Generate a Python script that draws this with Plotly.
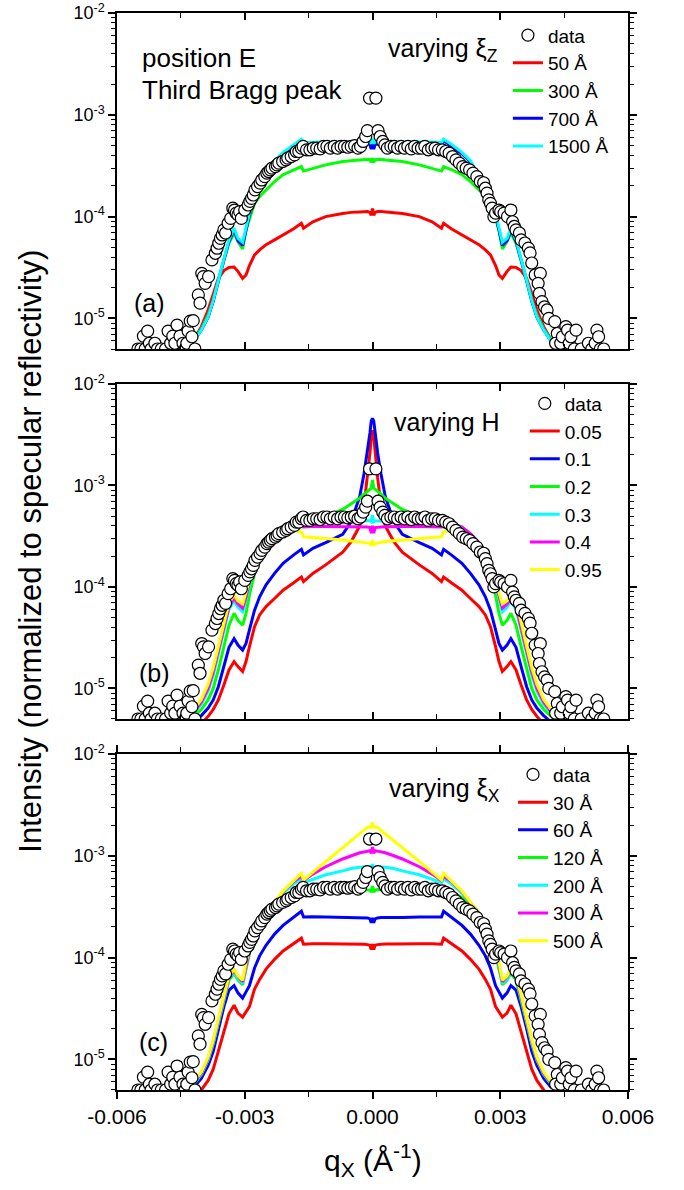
import numpy as np
import plotly.graph_objects as go

# ---------------- model grid (q_x, 1/Angstrom) ----------------
q_model = [-0.0047, -0.00442, -0.00418, -0.00402, -0.00386, -0.00374, -0.00362, -0.00349, -0.00337, -0.00325,
           -0.00316, -0.00305, -0.00297, -0.00289, -0.00277, -0.00265, -0.0025, -0.0023, -0.0021, -0.00185,
           -0.00167, -0.00162, -0.0014, -0.0011, -0.0007, -0.0005, -0.0003, -0.0002, -0.00012, -0.00006,
           -0.00003, 0.0, 0.00003, 0.00006, 0.00012, 0.0002, 0.0003, 0.0005, 0.0007, 0.0011,
           0.0014, 0.00162, 0.00167, 0.00185, 0.0021, 0.0023, 0.0025, 0.00265, 0.00277, 0.00289,
           0.00297, 0.00305, 0.00316, 0.00325, 0.00337, 0.00349, 0.00362, 0.00374, 0.00386, 0.00402,
           0.00418, 0.00442, 0.0047]

# ---------------- panel (a): varying xi_z ----------------
a_labels = ["50 Å", "300 Å", "700 Å", "1500 Å"]
a_red = [4.9e-6, 5.2e-6, 6.3e-6, 8.3e-6, 1.21e-5, 1.76e-5, 2.47e-5, 2.95e-5, 3.17e-5, 3.2e-5, 2.9e-5, 2.47e-5, 2.67e-5, 3.3e-5, 4.2e-5, 4.7e-5, 5.3e-5, 5.9e-5, 6.6e-5, 7.6e-5, 8.6e-5, 7.7e-5, 8.9e-5, 1.0e-4, 1.07e-4, 1.1e-4, 1.11e-4, 1.12e-4, 1.12e-4, 1.1e-4, 1.03e-4,
         1.2e-4,
         1.03e-4, 1.1e-4, 1.12e-4, 1.12e-4, 1.11e-4, 1.1e-4, 1.07e-4, 1.0e-4, 8.9e-5, 7.7e-5, 8.6e-5, 7.6e-5, 6.6e-5, 5.9e-5, 5.3e-5, 4.7e-5, 4.2e-5, 3.3e-5, 2.67e-5, 2.47e-5, 2.9e-5, 3.2e-5, 3.17e-5, 2.95e-5, 2.47e-5, 1.76e-5, 1.21e-5, 8.3e-6, 6.3e-6, 5.2e-6, 4.9e-6]
a_green = [4.9e-6, 5.1e-6, 6.3e-6, 7.9e-6, 1.08e-5, 1.5e-5, 2.3e-5, 3.75e-5, 5.5e-5, 6.9e-5, 5.7e-5, 4.8e-5, 7.4e-5, 9.6e-5, 1.35e-4, 1.58e-4, 1.83e-4, 2.21e-4, 2.58e-4, 2.9e-4, 3.1e-4, 2.8e-4, 2.99e-4, 3.22e-4, 3.48e-4, 3.55e-4, 3.6e-4, 3.65e-4, 3.65e-4, 3.62e-4, 3.4e-4,
           3.75e-4,
           3.4e-4, 3.62e-4, 3.65e-4, 3.65e-4, 3.6e-4, 3.55e-4, 3.48e-4, 3.22e-4, 2.99e-4, 2.8e-4, 3.1e-4, 2.9e-4, 2.58e-4, 2.21e-4, 1.83e-4, 1.58e-4, 1.35e-4, 9.6e-5, 7.4e-5, 4.8e-5, 5.7e-5, 6.9e-5, 5.5e-5, 3.75e-5, 2.3e-5, 1.5e-5, 1.08e-5, 7.9e-6, 6.3e-6, 5.1e-6, 4.9e-6]
a_blue = [4.9e-6, 5.05e-6, 6.1e-6, 7.7e-6, 1.03e-5, 1.48e-5, 2.35e-5, 3.8e-5, 5.7e-5, 7.4e-5, 5.8e-5, 5.2e-5, 7.4e-5, 1.04e-4, 1.5e-4, 1.88e-4, 2.45e-4, 3.45e-4, 4.15e-4, 4.95e-4, 5.6e-4, 5.1e-4, 5.15e-4, 5.2e-4, 5.25e-4, 5.25e-4, 5.25e-4, 5.25e-4, 5.2e-4, 5.1e-4, 4.6e-4,
          5.6e-4,
          4.6e-4, 5.1e-4, 5.2e-4, 5.25e-4, 5.25e-4, 5.25e-4, 5.25e-4, 5.2e-4, 5.15e-4, 5.1e-4, 5.6e-4, 4.95e-4, 4.15e-4, 3.45e-4, 2.45e-4, 1.88e-4, 1.5e-4, 1.04e-4, 7.4e-5, 5.2e-5, 5.8e-5, 7.4e-5, 5.7e-5, 3.8e-5, 2.35e-5, 1.48e-5, 1.03e-5, 7.7e-6, 6.1e-6, 5.05e-6, 4.9e-6]
a_cyan = [4.9e-6, 5.07e-6, 6.1e-6, 7.7e-6, 1.04e-5, 1.5e-5, 2.38e-5, 3.9e-5, 5.9e-5, 7.7e-5, 6.1e-5, 5.6e-5, 7.7e-5, 1.08e-4, 1.56e-4, 1.94e-4, 2.5e-4, 3.55e-4, 4.27e-4, 5.15e-4, 5.77e-4, 5.3e-4, 5.4e-4, 5.45e-4, 5.45e-4, 5.45e-4, 5.45e-4, 5.45e-4, 5.45e-4, 5.4e-4, 5.2e-4,
          5.9e-4,
          5.2e-4, 5.4e-4, 5.45e-4, 5.45e-4, 5.45e-4, 5.45e-4, 5.45e-4, 5.45e-4, 5.4e-4, 5.3e-4, 5.77e-4, 5.15e-4, 4.27e-4, 3.55e-4, 2.5e-4, 1.94e-4, 1.56e-4, 1.08e-4, 7.7e-5, 5.6e-5, 6.1e-5, 7.7e-5, 5.9e-5, 3.9e-5, 2.38e-5, 1.5e-5, 1.04e-5, 7.7e-6, 6.1e-6, 5.07e-6, 4.9e-6]

# ---------------- panel (b): varying H ----------------
b_labels = ["0.05", "0.1", "0.2", "0.3", "0.4", "0.95"]
b_red = [3.0e-6, 3.5e-6, 4.0e-6, 4.5e-6, 5.3e-6, 6.2e-6, 7.7e-6, 1.08e-5, 1.52e-5, 1.84e-5, 1.64e-5, 1.47e-5, 1.84e-5, 2.58e-5, 4.06e-5, 5.3e-5, 6.4e-5, 7.7e-5, 9.3e-5, 1.1e-4, 1.25e-4, 1.13e-4, 1.36e-4, 1.65e-4, 2.2e-4, 2.8e-4, 4.0e-4, 6.3e-4, 1.2e-3, 2.1e-3, 3.0e-3,
         3.5e-3,
         3.0e-3, 2.1e-3, 1.2e-3, 6.3e-4, 4.0e-4, 2.8e-4, 2.2e-4, 1.65e-4, 1.36e-4, 1.13e-4, 1.25e-4, 1.1e-4, 9.3e-5, 7.7e-5, 6.4e-5, 5.3e-5, 4.06e-5, 2.58e-5, 1.84e-5, 1.47e-5, 1.64e-5, 1.84e-5, 1.52e-5, 1.08e-5, 7.7e-6, 6.2e-6, 5.3e-6, 4.5e-6, 4.0e-6, 3.5e-6, 3.0e-6]
b_blue = [3.5e-6, 4.0e-6, 4.7e-6, 5.4e-6, 6.4e-6, 7.7e-6, 1.04e-5, 1.64e-5, 2.54e-5, 3.1e-5, 2.68e-5, 2.39e-5, 2.78e-5, 3.77e-5, 5.9e-5, 8.0e-5, 1.05e-4, 1.36e-4, 1.71e-4, 2.07e-4, 2.35e-4, 2.07e-4, 2.4e-4, 2.73e-4, 3.3e-4, 4.4e-4, 7.8e-4, 1.3e-3, 2.1e-3, 3.3e-3, 4.3e-3,
          4.6e-3,
          4.3e-3, 3.3e-3, 2.1e-3, 1.3e-3, 7.8e-4, 4.4e-4, 3.3e-4, 2.73e-4, 2.4e-4, 2.07e-4, 2.35e-4, 2.07e-4, 1.71e-4, 1.36e-4, 1.05e-4, 8.0e-5, 5.9e-5, 3.77e-5, 2.78e-5, 2.39e-5, 2.68e-5, 3.1e-5, 2.54e-5, 1.64e-5, 1.04e-5, 7.7e-6, 6.4e-6, 5.4e-6, 4.7e-6, 4.0e-6, 3.5e-6]
b_green = [3.8e-6, 4.5e-6, 5.4e-6, 6.2e-6, 7.7e-6, 1.0e-5, 1.52e-5, 2.58e-5, 4.2e-5, 5.5e-5, 4.7e-5, 4.2e-5, 5.5e-5, 8.3e-5, 1.36e-4, 1.85e-4, 2.4e-4, 3.0e-4, 3.5e-4, 3.99e-4, 4.36e-4, 4.14e-4, 4.57e-4, 5.0e-4, 5.8e-4, 6.6e-4, 7.5e-4, 8.2e-4, 8.8e-4, 9.2e-4, 9.4e-4,
           1.13e-3,
           9.4e-4, 9.2e-4, 8.8e-4, 8.2e-4, 7.5e-4, 6.6e-4, 5.8e-4, 5.0e-4, 4.57e-4, 4.14e-4, 4.36e-4, 3.99e-4, 3.5e-4, 3.0e-4, 2.4e-4, 1.85e-4, 1.36e-4, 8.3e-5, 5.5e-5, 4.2e-5, 4.7e-5, 5.5e-5, 4.2e-5, 2.58e-5, 1.52e-5, 1.0e-5, 7.7e-6, 6.2e-6, 5.4e-6, 4.5e-6, 3.8e-6]
b_cyan = [4.0e-6, 4.8e-6, 5.8e-6, 7.0e-6, 9.5e-6, 1.35e-5, 2.2e-5, 3.8e-5, 6.0e-5, 7.3e-5, 6.3e-5, 5.7e-5, 7.5e-5, 1.05e-4, 1.6e-4, 2.1e-4, 2.65e-4, 3.3e-4, 3.9e-4, 4.3e-4, 4.55e-4, 4.3e-4, 4.4e-4, 4.45e-4, 4.5e-4, 4.5e-4, 4.5e-4, 4.5e-4, 4.5e-4, 4.5e-4, 4.4e-4,
          5.1e-4,
          4.4e-4, 4.5e-4, 4.5e-4, 4.5e-4, 4.5e-4, 4.5e-4, 4.5e-4, 4.45e-4, 4.4e-4, 4.3e-4, 4.55e-4, 4.3e-4, 3.9e-4, 3.3e-4, 2.65e-4, 2.1e-4, 1.6e-4, 1.05e-4, 7.5e-5, 5.7e-5, 6.3e-5, 7.3e-5, 6.0e-5, 3.8e-5, 2.2e-5, 1.35e-5, 9.5e-6, 7.0e-6, 5.8e-6, 4.8e-6, 4.0e-6]
b_magenta = [4.1e-6, 5.0e-6, 6.0e-6, 7.3e-6, 1.0e-5, 1.45e-5, 2.35e-5, 4.0e-5, 6.4e-5, 7.8e-5, 6.8e-5, 6.2e-5, 8.0e-5, 1.12e-4, 1.7e-4, 2.2e-4, 2.75e-4, 3.35e-4, 3.9e-4, 4.2e-4, 4.3e-4, 3.9e-4, 3.95e-4, 3.95e-4, 3.95e-4, 3.95e-4, 3.92e-4, 3.9e-4, 3.9e-4, 3.85e-4, 3.4e-4,
             4.0e-4,
             3.4e-4, 3.85e-4, 3.9e-4, 3.9e-4, 3.92e-4, 3.95e-4, 3.95e-4, 3.95e-4, 3.95e-4, 3.9e-4, 4.3e-4, 4.2e-4, 3.9e-4, 3.35e-4, 2.75e-4, 2.2e-4, 1.7e-4, 1.12e-4, 8.0e-5, 6.2e-5, 6.8e-5, 7.8e-5, 6.4e-5, 4.0e-5, 2.35e-5, 1.45e-5, 1.0e-5, 7.3e-6, 6.0e-6, 5.0e-6, 4.1e-6]
b_yellow = [4.2e-6, 5.2e-6, 6.3e-6, 7.8e-6, 1.1e-5, 1.6e-5, 2.6e-5, 4.5e-5, 7.0e-5, 8.3e-5, 7.3e-5, 6.8e-5, 8.8e-5, 1.2e-4, 1.75e-4, 2.2e-4, 2.7e-4, 3.2e-4, 3.55e-4, 3.6e-4, 3.5e-4, 3.12e-4, 3.08e-4, 3.0e-4, 2.9e-4, 2.85e-4, 2.8e-4, 2.75e-4, 2.72e-4, 2.68e-4, 2.55e-4,
            2.9e-4,
            2.55e-4, 2.68e-4, 2.72e-4, 2.75e-4, 2.8e-4, 2.85e-4, 2.9e-4, 3.0e-4, 3.08e-4, 3.12e-4, 3.5e-4, 3.6e-4, 3.55e-4, 3.2e-4, 2.7e-4, 2.2e-4, 1.75e-4, 1.2e-4, 8.8e-5, 6.8e-5, 7.3e-5, 8.3e-5, 7.0e-5, 4.5e-5, 2.6e-5, 1.6e-5, 1.1e-5, 7.8e-6, 6.3e-6, 5.2e-6, 4.2e-6]

# ---------------- panel (c): varying xi_x ----------------
c_labels = ["30 Å", "60 Å", "120 Å", "200 Å", "300 Å", "500 Å"]
c_red = [3.1e-6, 3.7e-6, 4.3e-6, 5.0e-6, 6.2e-6, 8.0e-6, 1.2e-5, 1.9e-5, 2.8e-5, 3.4e-5, 2.85e-5, 2.6e-5, 2.9e-5, 3.3e-5, 4.9e-5, 6.1e-5, 7.7e-5, 9.6e-5, 1.16e-4, 1.38e-4, 1.55e-4, 1.35e-4, 1.37e-4, 1.37e-4, 1.37e-4, 1.36e-4, 1.36e-4, 1.35e-4, 1.34e-4, 1.32e-4, 1.2e-4,
         1.36e-4,
         1.2e-4, 1.32e-4, 1.34e-4, 1.35e-4, 1.36e-4, 1.36e-4, 1.37e-4, 1.37e-4, 1.37e-4, 1.35e-4, 1.55e-4, 1.38e-4, 1.16e-4, 9.6e-5, 7.7e-5, 6.1e-5, 4.9e-5, 3.3e-5, 2.9e-5, 2.6e-5, 2.85e-5, 3.4e-5, 2.8e-5, 1.9e-5, 1.2e-5, 8.0e-6, 6.2e-6, 5.0e-6, 4.3e-6, 3.7e-6, 3.1e-6]
c_blue = [3.7e-6, 4.5e-6, 5.4e-6, 6.5e-6, 8.7e-6, 1.2e-5, 2.0e-5, 3.3e-5, 4.8e-5, 5.3e-5, 4.5e-5, 4.0e-5, 4.6e-5, 5.3e-5, 7.9e-5, 1.04e-4, 1.32e-4, 1.7e-4, 2.07e-4, 2.47e-4, 2.85e-4, 2.5e-4, 2.52e-4, 2.5e-4, 2.48e-4, 2.48e-4, 2.48e-4, 2.47e-4, 2.45e-4, 2.4e-4, 2.2e-4,
          2.45e-4,
          2.2e-4, 2.4e-4, 2.45e-4, 2.47e-4, 2.48e-4, 2.48e-4, 2.48e-4, 2.5e-4, 2.52e-4, 2.5e-4, 2.85e-4, 2.47e-4, 2.07e-4, 1.7e-4, 1.32e-4, 1.04e-4, 7.9e-5, 5.3e-5, 4.6e-5, 4.0e-5, 4.5e-5, 5.3e-5, 4.8e-5, 3.3e-5, 2.0e-5, 1.2e-5, 8.7e-6, 6.5e-6, 5.4e-6, 4.5e-6, 3.7e-6]
c_green = [3.9e-6, 4.8e-6, 5.8e-6, 7.1e-6, 9.8e-6, 1.42e-5, 2.3e-5, 3.9e-5, 6.0e-5, 7.0e-5, 6.0e-5, 5.4e-5, 7.9e-5, 1.1e-4, 1.65e-4, 2.1e-4, 2.6e-4, 3.25e-4, 3.9e-4, 4.4e-4, 4.6e-4, 4.25e-4, 4.4e-4, 4.5e-4, 4.6e-4, 4.65e-4, 4.65e-4, 4.65e-4, 4.65e-4, 4.6e-4, 4.4e-4,
           5.0e-4,
           4.4e-4, 4.6e-4, 4.65e-4, 4.65e-4, 4.65e-4, 4.65e-4, 4.6e-4, 4.5e-4, 4.4e-4, 4.25e-4, 4.6e-4, 4.4e-4, 3.9e-4, 3.25e-4, 2.6e-4, 2.1e-4, 1.65e-4, 1.1e-4, 7.9e-5, 5.4e-5, 6.0e-5, 7.0e-5, 6.0e-5, 3.9e-5, 2.3e-5, 1.42e-5, 9.8e-6, 7.1e-6, 5.8e-6, 4.8e-6, 3.9e-6]
c_cyan = [4.0e-6, 4.9e-6, 5.9e-6, 7.2e-6, 1.0e-5, 1.45e-5, 2.35e-5, 4.0e-5, 6.2e-5, 7.2e-5, 6.2e-5, 5.6e-5, 8.3e-5, 1.14e-4, 1.7e-4, 2.15e-4, 2.7e-4, 3.4e-4, 4.3e-4, 5.3e-4, 5.9e-4, 5.45e-4, 5.9e-4, 6.5e-4, 7.1e-4, 7.5e-4, 7.7e-4, 7.8e-4, 7.8e-4, 7.8e-4, 7.4e-4,
          8.3e-4,
          7.4e-4, 7.8e-4, 7.8e-4, 7.8e-4, 7.7e-4, 7.5e-4, 7.1e-4, 6.5e-4, 5.9e-4, 5.45e-4, 5.9e-4, 5.3e-4, 4.3e-4, 3.4e-4, 2.7e-4, 2.15e-4, 1.7e-4, 1.14e-4, 8.3e-5, 5.6e-5, 6.2e-5, 7.2e-5, 6.2e-5, 4.0e-5, 2.35e-5, 1.45e-5, 1.0e-5, 7.2e-6, 5.9e-6, 4.9e-6, 4.0e-6]
c_magenta = [4.0e-6, 4.9e-6, 6.0e-6, 7.3e-6, 1.02e-5, 1.5e-5, 2.4e-5, 4.1e-5, 6.4e-5, 7.5e-5, 6.5e-5, 5.8e-5, 8.6e-5, 1.17e-4, 1.72e-4, 2.2e-4, 2.75e-4, 3.45e-4, 4.45e-4, 5.6e-4, 6.3e-4, 5.7e-4, 6.6e-4, 7.8e-4, 9.3e-4, 1.0e-3, 1.07e-3, 1.09e-3, 1.11e-3, 1.12e-3, 1.06e-3,
             1.22e-3,
             1.06e-3, 1.12e-3, 1.11e-3, 1.09e-3, 1.07e-3, 1.0e-3, 9.3e-4, 7.8e-4, 6.6e-4, 5.7e-4, 6.3e-4, 5.6e-4, 4.45e-4, 3.45e-4, 2.75e-4, 2.2e-4, 1.72e-4, 1.17e-4, 8.6e-5, 5.8e-5, 6.5e-5, 7.5e-5, 6.4e-5, 4.1e-5, 2.4e-5, 1.5e-5, 1.02e-5, 7.3e-6, 6.0e-6, 4.9e-6, 4.0e-6]
c_yellow = [4.1e-6, 5.0e-6, 6.1e-6, 7.5e-6, 1.05e-5, 1.55e-5, 2.5e-5, 4.3e-5, 6.6e-5, 7.7e-5, 6.6e-5, 6.0e-5, 9.0e-5, 1.21e-4, 1.76e-4, 2.21e-4, 2.77e-4, 3.5e-4, 4.5e-4, 5.7e-4, 6.7e-4, 5.8e-4, 6.9e-4, 8.8e-4, 1.2e-3, 1.41e-3, 1.64e-3, 1.77e-3, 1.9e-3, 1.93e-3, 1.87e-3,
            2.13e-3,
            1.87e-3, 1.93e-3, 1.9e-3, 1.77e-3, 1.64e-3, 1.41e-3, 1.2e-3, 8.8e-4, 6.9e-4, 5.8e-4, 6.7e-4, 5.7e-4, 4.5e-4, 3.5e-4, 2.77e-4, 2.21e-4, 1.76e-4, 1.21e-4, 9.0e-5, 6.0e-5, 6.6e-5, 7.7e-5, 6.6e-5, 4.3e-5, 2.5e-5, 1.55e-5, 1.05e-5, 7.5e-6, 6.1e-6, 5.0e-6, 4.1e-6]

# ---------------- measured data (same in all panels) ----------------
q_data = [-0.00551, -0.00544, -0.00538, -0.00534, -0.00528, -0.00524, -0.00520, -0.00511, -0.00505, -0.00496,
          -0.00486, -0.00480, -0.00474, -0.00469, -0.00464, -0.00459, -0.00452, -0.00445, -0.00440, -0.00436,
          -0.00433, -0.00428, -0.00424, -0.00421, -0.00417, -0.00409, -0.00405, -0.00401, -0.00397, -0.00393,
          -0.00385, -0.00377, -0.00369, -0.00365, -0.00361, -0.00357, -0.00353, -0.00349, -0.00345, -0.00339,
          -0.00333, -0.00328, -0.00324, -0.00320, -0.00316, -0.00312, -0.00308, -0.00300, -0.00292, -0.00288,
          -0.00284, -0.00280, -0.00276, -0.00270, -0.00264, -0.00260, -0.00253, -0.00248, -0.00244, -0.00240,
          -0.00236, -0.00228, -0.00224, -0.00220, -0.00211, -0.00203, -0.00199, -0.00191, -0.00183, -0.00179,
          -0.00173, -0.00167, -0.00163, -0.00155, -0.00147, -0.00139, -0.00131, -0.00123, -0.00115, -0.00107,
          -0.00099, -0.00090, -0.00082, -0.00074, -0.00066, -0.00058, -0.00050, -0.00042, -0.00034, -0.00028,
          -0.00022, -0.00016, -0.00012, -0.00007,
          0.00008, 0.00013, 0.00018, 0.00024, 0.00029, 0.00035, 0.00043, 0.00051, 0.00059, 0.00067,
          0.00075, 0.00083, 0.00091, 0.00099, 0.00107, 0.00115, 0.00123, 0.00131, 0.00139, 0.00147,
          0.00155, 0.00164, 0.00172, 0.00180, 0.00188, 0.00196, 0.00204, 0.00212, 0.00220, 0.00228,
          0.00236, 0.00245, 0.00253, 0.00261, 0.00265, 0.00269, 0.00273, 0.00277, 0.00281, 0.00285,
          0.00289, 0.00297, 0.00301, 0.00309, 0.00317, 0.00325, 0.00329, 0.00333, 0.00337, 0.00345,
          0.00349, 0.00358, 0.00366, 0.00370, 0.00374, 0.00382, 0.00394, 0.00389, 0.00392, 0.00398,
          0.00404, 0.00410, 0.00414, 0.00428, 0.00434, 0.00430, 0.00442, 0.00446, 0.00454, 0.00458,
          0.00462, 0.00466, 0.00474, 0.00478, 0.00490, 0.00507, 0.00515, 0.00523, 0.00527, 0.00531,
          0.00535, 0.00543]
i_data = [5.0e-6, 5.0e-6, 6.7e-6, 5.0e-6, 7.5e-6, 5.7e-6, 5.0e-6, 5.7e-6, 5.0e-6, 5.0e-6,
          5.0e-6, 7.5e-6, 5.7e-6, 6.7e-6, 5.7e-6, 8.6e-6, 6.7e-6, 5.7e-6, 5.0e-6, 5.7e-6,
          7.5e-6, 9.4e-6, 6.6e-6, 9.5e-6, 5.0e-6, 1.70e-5, 1.41e-5, 2.77e-5, 2.57e-5, 2.21e-5,
          2.57e-5, 3.75e-5, 4.36e-5, 4.89e-5, 5.47e-5, 6.10e-5, 6.60e-5, 7.40e-5, 6.90e-5, 8.60e-5,
          9.60e-5, 1.21e-4, 1.16e-4, 1.08e-4, 1.04e-4, 1.12e-4, 9.60e-5, 1.16e-4, 1.30e-4, 1.41e-4,
          1.51e-4, 1.63e-4, 1.83e-4, 1.97e-4, 2.13e-4, 2.29e-4, 2.47e-4, 2.67e-4, 2.77e-4, 2.88e-4,
          2.99e-4, 3.10e-4, 3.22e-4, 3.35e-4, 3.48e-4, 3.61e-4, 3.75e-4, 3.89e-4, 4.04e-4, 4.36e-4,
          4.36e-4, 4.70e-4, 4.89e-4, 4.53e-4, 4.53e-4, 4.70e-4, 4.70e-4, 4.62e-4, 4.89e-4, 4.89e-4,
          4.70e-4, 4.89e-4, 4.70e-4, 4.89e-4, 4.89e-4, 4.80e-4, 4.89e-4, 4.98e-4, 4.70e-4, 4.89e-4,
          5.47e-4, 6.12e-4, 7.0e-4, 1.46e-3,
          1.46e-3, 7.0e-4, 6.12e-4, 5.47e-4, 5.07e-4, 4.70e-4, 4.89e-4, 4.89e-4, 4.70e-4, 4.89e-4,
          4.70e-4, 4.89e-4, 4.62e-4, 4.89e-4, 4.70e-4, 4.70e-4, 4.89e-4, 4.53e-4, 4.70e-4, 4.70e-4,
          4.53e-4, 4.53e-4, 4.36e-4, 4.20e-4, 3.89e-4, 3.61e-4, 3.35e-4, 3.10e-4, 2.99e-4, 2.88e-4,
          2.67e-4, 2.47e-4, 2.21e-4, 2.15e-4, 1.90e-4, 1.70e-4, 1.46e-4, 1.35e-4, 1.21e-4, 1.00e-4,
          1.08e-4, 1.16e-4, 1.12e-4, 1.08e-4, 1.00e-4, 1.16e-4, 8.9e-5, 8.0e-5, 7.4e-5, 6.9e-5,
          5.9e-5, 5.5e-5, 4.9e-5, 4.4e-5, 3.5e-5, 2.67e-5, 2.77e-5, 2.21e-5, 1.76e-5, 1.46e-5,
          1.30e-5, 1.21e-5, 1.0e-5, 9.3e-6, 7.1e-6, 5.7e-6, 5.7e-6, 6.6e-6, 8.3e-6, 7.67e-6,
          5.7e-6, 6.6e-6, 5.0e-6, 7.67e-6, 5.0e-6, 5.7e-6, 5.0e-6, 5.7e-6, 7.67e-6, 6.6e-6,
          5.0e-6, 5.0e-6]

assert len(q_data) == len(i_data)
for arr in [a_red, a_green, a_blue, a_cyan, b_red, b_blue, b_green, b_cyan, b_magenta, b_yellow,
            c_red, c_blue, c_green, c_cyan, c_magenta, c_yellow]:
    assert len(arr) == len(q_model), len(arr)

# ---------------- styling ----------------
FONT = "Liberation Sans, Arial, Helvetica, sans-serif"
RED, GREEN, BLUE, CYAN, MAGENTA, YELLOW = "#FF0000", "#00FF00", "#0000FF", "#00FFFF", "#FF00FF", "#FFFF00"

panels = [
    dict(labels=a_labels, colors=[RED, GREEN, BLUE, CYAN], curves=[a_red, a_green, a_blue, a_cyan]),
    dict(labels=b_labels, colors=[RED, BLUE, GREEN, CYAN, MAGENTA, YELLOW],
         curves=[b_red, b_blue, b_green, b_cyan, b_magenta, b_yellow]),
    dict(labels=c_labels, colors=[RED, BLUE, GREEN, CYAN, MAGENTA, YELLOW],
         curves=[c_red, c_blue, c_green, c_cyan, c_magenta, c_yellow]),
]

fig = go.Figure()
for k, p in enumerate(panels, start=1):
    sfx = "" if k == 1 else str(k)
    leg = "legend" if k == 1 else "legend" + str(k)
    for lab, col, yv in zip(p["labels"], p["colors"], p["curves"]):
        fig.add_trace(go.Scatter(x=q_model, y=yv, mode="lines", name=lab,
                                 line=dict(color=col, width=3), xaxis="x" + sfx, yaxis="y" + sfx,
                                 legend=leg))
    fig.add_trace(go.Scatter(x=q_data, y=i_data, mode="markers", name="data", legendrank=1,
                             marker=dict(symbol="circle", size=12, color="white",
                                         line=dict(color="black", width=1.2)),
                             xaxis="x" + sfx, yaxis="y" + sfx, legend=leg))

domains = {1: [0.688, 1.0], 2: [0.3445, 0.6555], 3: [0.0, 0.312]}
xt_major = [-0.006, -0.003, 0.0, 0.003, 0.006]
xt_text = ["-0.006", "-0.003", "0.000", "0.003", "0.006"]
xt_minor = [-0.0045, -0.0015, 0.0015, 0.0045]
yt_major = [1e-5, 1e-4, 1e-3, 1e-2]
yt_text = ["10<sup>-5</sup>", "10<sup>-4</sup>", "10<sup>-3</sup>", "10<sup>-2</sup>"]
yt_minor = [m * 10.0 ** e for e in (-6, -5, -4, -3) for m in range(2, 10)]
yrange = [np.log10(5e-6), -2]

layout = dict(
    width=684, height=1190, paper_bgcolor="white", plot_bgcolor="white",
    margin=dict(l=117, r=56, t=13, b=100, autoexpand=False),
    font=dict(family=FONT, color="black"),
    showlegend=True,
)
for k in (1, 2, 3):
    sfx = "" if k == 1 else str(k)
    layout["xaxis" + sfx] = dict(
        domain=[0, 1], range=[-0.006, 0.006], anchor="y" + sfx, automargin=False,
        tickmode="array", tickvals=xt_major, ticktext=xt_text, showticklabels=(k == 3),
        ticks="outside" if k == 3 else "inside", ticklen=7, tickwidth=1.5, tickcolor="black",
        minor=dict(tickmode="array", tickvals=xt_minor, ticks="outside" if k == 3 else "inside",
                   ticklen=5, tickwidth=1.2, tickcolor="black"),
        showline=True, linecolor="black", linewidth=1.5, mirror="allticks",
        showgrid=False, zeroline=False,
        tickfont=dict(family=FONT, size=21, color="black"),
    )
    layout["yaxis" + sfx] = dict(
        domain=domains[k], type="log", range=yrange, anchor="x" + sfx, automargin=False,
        tickmode="array", tickvals=yt_major, ticktext=yt_text,
        ticks="outside", ticklen=7, tickwidth=1.5, tickcolor="black",
        minor=dict(tickmode="array", tickvals=yt_minor, ticks="outside", ticklen=4,
                   tickwidth=1, tickcolor="black"),
        showline=True, linecolor="black", linewidth=1.5, mirror="allticks",
        showgrid=False, zeroline=False,
        tickfont=dict(family=FONT, size=18, color="black"),
    )

legend_common = dict(xanchor="left", yanchor="top", bgcolor="rgba(0,0,0,0)", borderwidth=0,
                     font=dict(family=FONT, size=19, color="black"), tracegroupgap=0)
layout["legend"] = dict(x=0.765, y=0.997, **legend_common)
layout["legend2"] = dict(x=0.798, y=0.655, **legend_common)
layout["legend3"] = dict(x=0.775, y=0.3105, **legend_common)

def ann(text, x, y, size=25, xanchor="left", **kw):
    return dict(text=text, x=x, y=y, xref="paper", yref="paper", xanchor=xanchor, yanchor="middle",
                showarrow=False, font=dict(family=FONT, size=size, color="black"), **kw)

layout["annotations"] = [
    ann("position E", 0.045, 0.9582, size=26),
    ann("Third Bragg peak", 0.045, 0.9285, size=26),
    ann("varying ξ<sub>Z</sub>", 0.526, 0.9656),
    ann("(a)", 0.029, 0.7307),
    ann("varying H", 0.538, 0.6202),
    ann("(b)", 0.039, 0.3872),
    ann("varying ξ<sub>X</sub>", 0.528, 0.2786),
    ann("(c)", 0.039, 0.0446),
    ann("q<sub>X</sub> (Å<sup>-1</sup>)", 0.5, -0.065, size=30, xanchor="center"),
    ann("Intensity (normalized to specular reflectivity)", -0.170, 0.5, size=31,
        xanchor="center", textangle=-90),
]

fig.update_layout(**layout)
# remove the browser's default 8px body margin so the figure sits at the page origin
fig.write_html("out.html", config={"displayModeBar": False},
               post_script="document.body.style.margin='0';")
